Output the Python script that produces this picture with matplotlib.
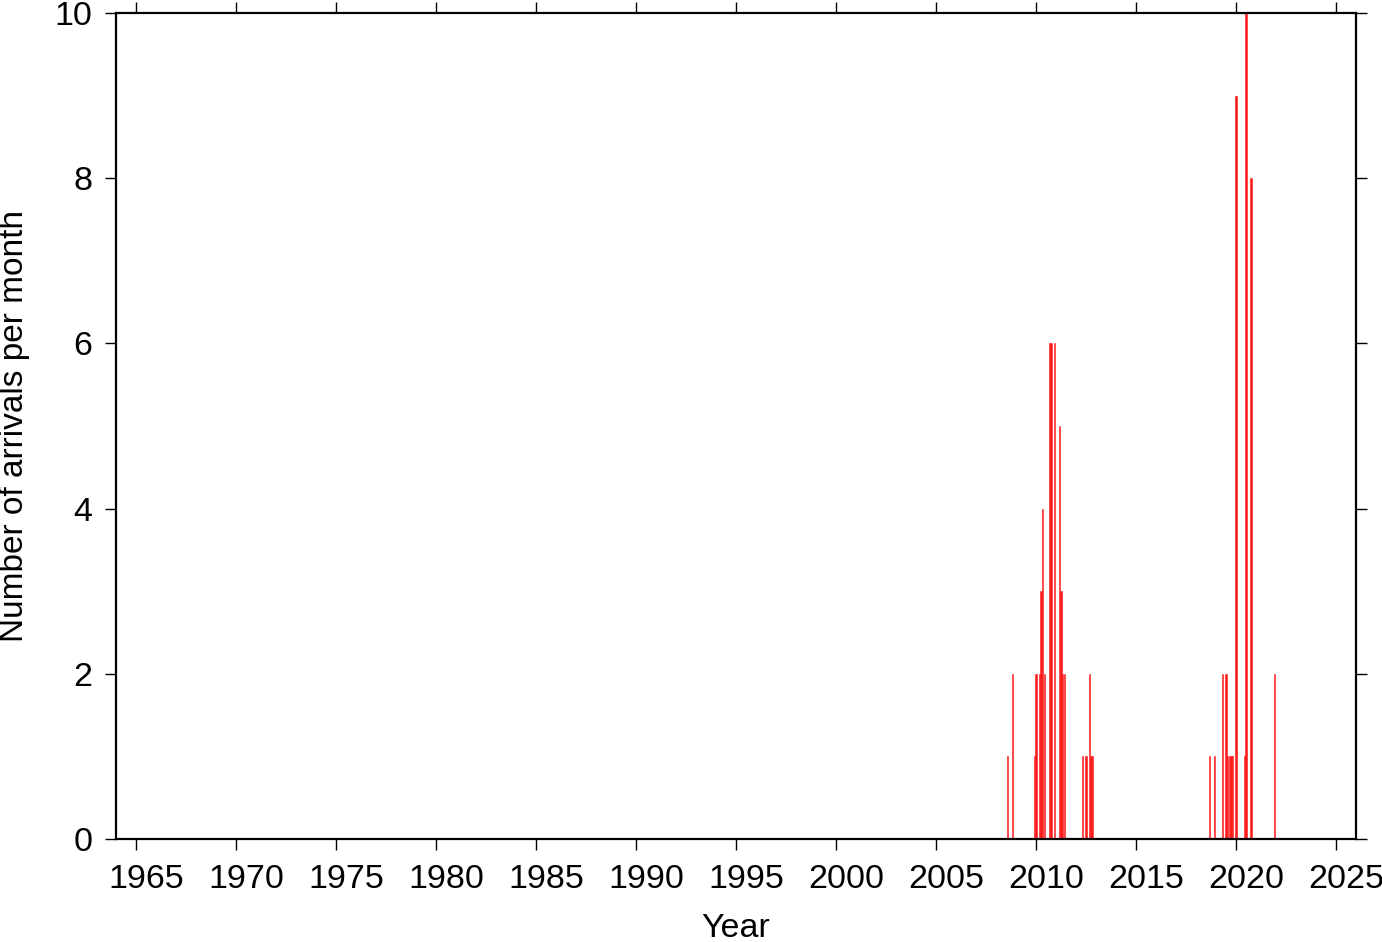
import matplotlib
matplotlib.use("Agg")
import matplotlib.pyplot as plt
import matplotlib.transforms as mtransforms

plt.rcParams['font.family'] = ['Liberation Sans', 'DejaVu Sans']

# Monthly arrival counts; bar position = year + month/12
years  = [2008, 2008, 2009, 2009, 2010, 2010, 2010, 2010, 2010, 2010, 2010,
          2011, 2011, 2011, 2011, 2012, 2012, 2012, 2012, 2012,
          2018, 2018, 2019, 2019, 2019, 2019, 2019, 2019, 2019,
          2020, 2020, 2020, 2021]
months = [7, 10, 11, 12, 2, 3, 4, 5, 8, 9, 11,
          2, 3, 4, 5, 4, 6, 8, 9, 10,
          8, 11, 4, 6, 7, 8, 9, 10, 12,
          5, 6, 9, 11]
counts = [1, 2, 1, 2, 2, 3, 4, 2, 6, 6, 6,
          5, 3, 2, 2, 1, 1, 2, 1, 1,
          1, 1, 2, 2, 1, 1, 1, 1, 9,
          1, 10, 8, 2]

xticks = list(range(1965, 2026, 5))
yticks = [0, 2, 4, 6, 8, 10]

positions = [y + m / 12.0 for y, m in zip(years, months)]

fig = plt.figure(figsize=(13.82, 9.42), dpi=100)
ax = fig.add_axes([116 / 1382, 1 - 839 / 942, (1356 - 116) / 1382, (839 - 13) / 942])

ax.bar(positions, counts, width=1 / 12.0, color='#ff1a1a', edgecolor='#ff1a1a',
       linewidth=0.4, align='center')

ax.set_xlim(1964, 2026)
ax.set_ylim(0, 10)
ax.set_xticks(xticks)
ax.set_xticklabels([str(t) for t in xticks])
ax.set_yticks(yticks)
ax.set_yticklabels([str(t) for t in yticks])

ax.tick_params(axis='both', which='major', direction='out', length=8, width=1.0,
               labelsize=24.5, top=True, right=True, labeltop=False, labelright=False)
ax.tick_params(axis='x', pad=10)
ax.tick_params(axis='y', pad=9)
for s in ax.spines.values():
    s.set_linewidth(1.6)

shift = mtransforms.ScaledTranslation(10 / 100, 0, fig.dpi_scale_trans)
for lab in ax.get_xticklabels():
    lab.set_transform(lab.get_transform() + shift)

ax.set_xlabel('Year', fontsize=24.5, labelpad=13)
ax.set_ylabel('Number of arrivals per month', fontsize=24, labelpad=18)

fig.savefig('out.png', dpi=100)
